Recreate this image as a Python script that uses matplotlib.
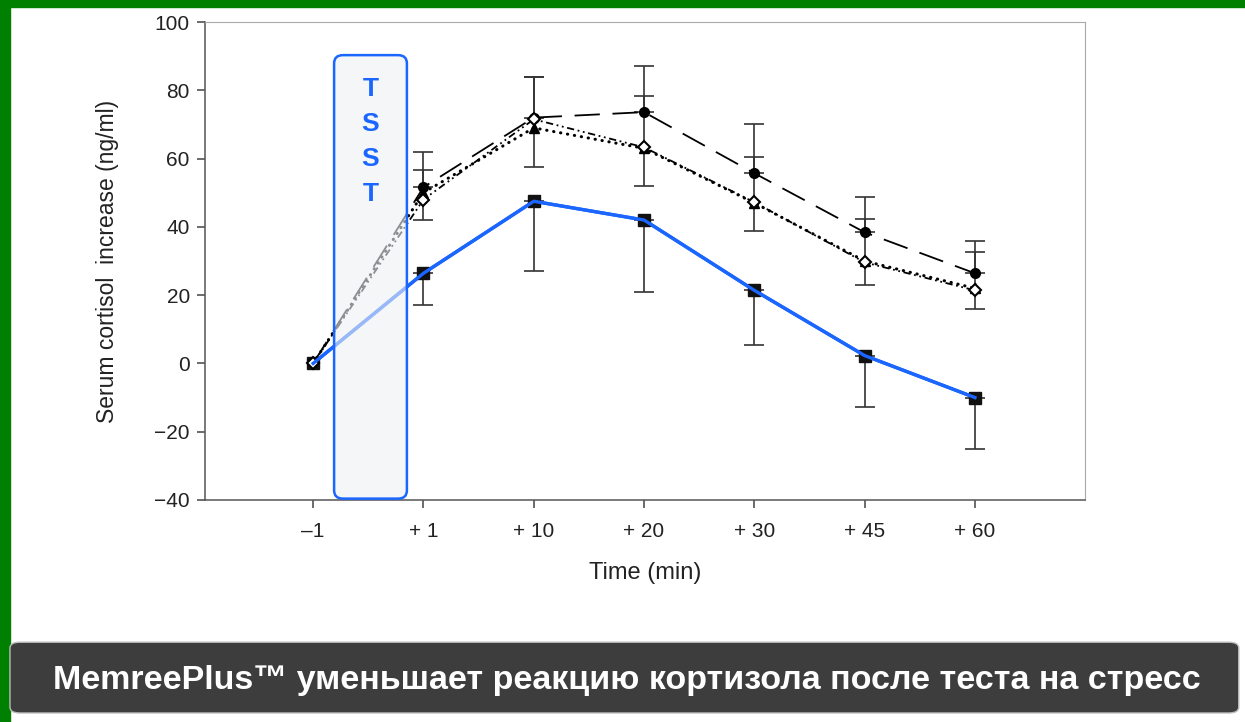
## import packages
import matplotlib
matplotlib.use('Agg')
import matplotlib.pyplot as plt
from matplotlib.patches import FancyBboxPatch, Rectangle
import numpy as np

plt.rcParams['font.family'] = ['Liberation Sans', 'DejaVu Sans']

## data
times = ['\u20131', '+ 1', '+ 10', '+ 20', '+ 30', '+ 45', '+ 60']

circ = [0, 51.6, 72, 73.6, 55.7, 38.4, 26.4]
circ_up = [0, 10.4, 12, 13.5, 14.3, 10.3, 9.4]

tri = [0, 50, 69, 63, 47, 30, 22]

diam = [0, 48, 71.5, 63.3, 47.2, 29.6, 21.4]
diam_up = [0, 8.6, 12.5, 15, 13.2, 12.6, 11.1]
diam_lo = [0, 6, 14, 11.3, 8.5, 6.6, 5.4]

sq = [0, 26.4, 47.5, 42, 21.4, 2.3, -10]
sq_lo = [0, 9.4, 20.5, 21, 16.1, 15.2, 15]

xs = np.arange(len(times))

## figure
fig = plt.figure(figsize=(12.45, 7.22), dpi=100)
fig.patch.set_facecolor('white')

# green frame top / left
fig.patches.append(Rectangle((0, 0.99), 1, 0.01, transform=fig.transFigure,
                             color='#008000', zorder=0))
fig.patches.append(Rectangle((0, 0), 0.008, 1, transform=fig.transFigure,
                             color='#008000', zorder=0))

ax = fig.add_axes([0.1647, 0.3075, 0.707, 0.662])
ecol = '#333333'

# error bars only after baseline
ax.errorbar(xs[1:], circ[1:], yerr=[np.zeros(6), circ_up[1:]], fmt='none', ecolor=ecol,
            elinewidth=1.2, capsize=7, capthick=1.2, zorder=2)
ax.errorbar(xs[1:], diam[1:], yerr=[diam_lo[1:], diam_up[1:]], fmt='none', ecolor=ecol,
            elinewidth=1.2, capsize=7, capthick=1.2, zorder=2)
ax.errorbar(xs[1:], sq[1:], yerr=[sq_lo[1:], np.zeros(6)], fmt='none', ecolor=ecol,
            elinewidth=1.2, capsize=7, capthick=1.2, zorder=2)

ax.plot(xs, circ, color='black', lw=1.3, dashes=(14, 7), marker='o',
        ms=7, mfc='black', mec='black', zorder=3)
ax.plot(xs, tri, color='black', lw=2.2, linestyle=(0, (0.1, 2.2)),
        dash_capstyle='round', marker='^', ms=7, mfc='black', mec='black', zorder=3)
ax.plot(xs, diam, color='black', lw=1.3, dashes=(4, 2, 1, 2, 1, 2), marker='D',
        ms=6.5, mfc='white', mec='black', mew=1.5, zorder=4)
ax.plot(xs, sq, color='#1a66ff', lw=2.4, marker='s', ms=8, mfc='#111111',
        mec='#111111', zorder=3)
ax.plot(xs, sq, color='#1a66ff', lw=2.4, zorder=4)

# TSST box
box = FancyBboxPatch((0.19, -39.6), 0.66, 129.9, boxstyle='round,pad=0,rounding_size=0.08',
                     mutation_aspect=30, facecolor='#eef0f4', alpha=0.6,
                     edgecolor='none', zorder=5)
ax.add_patch(box)
edge = FancyBboxPatch((0.19, -39.6), 0.66, 129.9, boxstyle='round,pad=0,rounding_size=0.08',
                      mutation_aspect=30, facecolor='none', edgecolor='#1a66ff',
                      lw=1.8, zorder=6)
ax.add_patch(edge)
for letter, yv in zip(['T', 'S', 'S', 'T'], [80.3, 70, 59.8, 49.5]):
    ax.text(0.52, yv, letter, color='#1a66ff', fontsize=19, fontweight='bold',
            ha='center', va='center', zorder=7)

ax.set_xlim(-0.98, 7.0)
ax.set_ylim(-40, 100)
ax.set_xticks(xs)
ax.set_xticklabels(times, fontsize=15)
ax.set_yticks(np.arange(-40, 101, 20))
ax.set_yticklabels(['\u221240', '\u221220', '0', '20', '40', '60', '80', '100'], fontsize=15)
ax.tick_params(direction='out', length=6, width=1.1, color='#444444', pad=5,
               labelcolor='#222222')
ax.tick_params(axis='x', pad=10)
for s in ['top', 'right']:
    ax.spines[s].set_color('#aaaaaa')
    ax.spines[s].set_linewidth(0.8)
for s in ['left', 'bottom']:
    ax.spines[s].set_color('#555555')
    ax.spines[s].set_linewidth(1.1)

ax.set_xlabel('Time (min)', fontsize=17, labelpad=15, color='#222222')
ax.set_ylabel('Serum cortisol  increase (ng/ml)', fontsize=16.5, labelpad=25, color='#222222')

# bottom banner
banner = FancyBboxPatch((0.008, 0.0125), 0.987, 0.098, boxstyle='round,pad=0,rounding_size=0.008',
                        transform=fig.transFigure, facecolor='#3d3d3d',
                        edgecolor='#bbbbbb', lw=1)
fig.patches.append(banner)
fig.text(0.5035, 0.058, 'MemreePlus\u2122 уменьшает реакцию кортизола после теста на стресс',
         color='white', fontsize=24.5, fontweight='bold', ha='center', va='center',
         family=['Liberation Sans', 'DejaVu Sans'])

plt.savefig('out.png', dpi=100)
